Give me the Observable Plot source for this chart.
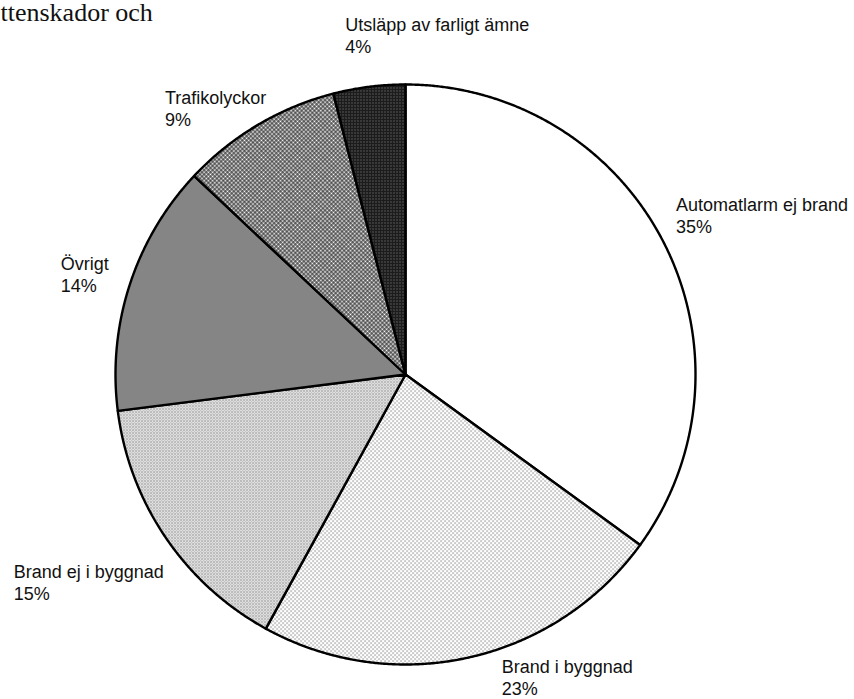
<!DOCTYPE html>
<html>
<head>
<meta charset="utf-8">
<script src="https://cdn.jsdelivr.net/npm/d3@7"></script>
<script src="https://cdn.jsdelivr.net/npm/@observablehq/plot@0.6"></script>
<style>
  html, body { margin: 0; padding: 0; background: #fff; }
  #chart svg { display: block; background: #fff; }
</style>
</head>
<body>
<div id="chart"></div>
<script>
// ---- data ----
const categories = ["Automatlarm ej brand", "Brand i byggnad", "Brand ej i byggnad", "Övrigt", "Trafikolyckor", "Utsläpp av farligt ämne"];
const shares = [35, 23, 15, 14, 9, 4];
const shareLabels = ["35%", "23%", "15%", "14%", "9%", "4%"];
const headingFragment = "ttenskador och";

// ---- layout / style (kept apart from the data) ----
const W = 854, H = 699;
const R = 290, CX = 405, CY = 374;
const patternIds = ["pWhite", "pLightDots", "pDots", "pGray", "pCheck", "pDark"];
const labelNudges = [[12, -47], [33, 0], [-152, 25], [-69, -30], [-93, -36], [-24, -71]];

const arcs = d3.pie().sort(null).value(d => d)(shares);

const slicePoints = arcs.map((a, i) => {
  const pts = [{x: 0, y: 0}];
  const n = Math.max(2, Math.ceil((a.endAngle - a.startAngle) / 0.005));
  for (let k = 0; k <= n; k++) {
    const t = a.startAngle + (a.endAngle - a.startAngle) * k / n;
    pts.push({x: Math.sin(t), y: -Math.cos(t)});
  }
  pts.push({x: 0, y: 0});
  return pts;
});

const marks = [];
arcs.forEach((a, i) => {
  marks.push(Plot.line(slicePoints[i], {
    x: "x", y: "y", curve: "linear",
    fill: `url(#${patternIds[i]})`,
    stroke: "#000", strokeWidth: 2.4, strokeLinejoin: "round"
  }));
});
arcs.forEach((a, i) => {
  const mid = (a.startAngle + a.endAngle) / 2;
  marks.push(Plot.text([i], {
    x: () => Math.sin(mid), y: () => -Math.cos(mid),
    text: () => categories[i] + "\n" + shareLabels[i],
    dx: labelNudges[i][0], dy: labelNudges[i][1],
    textAnchor: "start", lineAnchor: "top", lineHeight: 1.22,
    fontFamily: "Liberation Sans, Arial, sans-serif", fontSize: 18, fill: "#111"
  }));
});
marks.push(Plot.text([headingFragment], {
  frameAnchor: "top-left", text: d => d, textAnchor: "start", lineAnchor: "top",
  dx: 0, dy: 2, fontFamily: "Liberation Serif, Times New Roman, serif", fontSize: 26, fill: "#111"
}));

const svg = Plot.plot({
  width: W, height: H,
  margin: 0,
  x: {domain: [-CX / R, (W - CX) / R], range: [0, W], axis: null},
  y: {domain: [-CY / R, (H - CY) / R], range: [0, H], axis: null},
  style: {background: "#fff"},
  marks
});

// pattern definitions
const defs = d3.select(svg).insert("defs", ":first-child");
function tile(id, w, h, bg, rects, rotate) {
  const p = defs.append("pattern").attr("id", id).attr("patternUnits", "userSpaceOnUse")
    .attr("width", w).attr("height", h);
  if (rotate) p.attr("patternTransform", `rotate(${rotate})`);
  p.append("rect").attr("width", w).attr("height", h).attr("fill", bg);
  rects.forEach(([x, y, rw, rh, c]) => p.append("rect").attr("x", x).attr("y", y).attr("width", rw).attr("height", rh).attr("fill", c));
}
tile("pWhite", 4, 4, "#fff", []);
tile("pLightDots", 4, 4, "#fff", [[0, 0, 1.1, 1.1, "#555"], [2, 2, 1.1, 1.1, "#555"]]);
tile("pDots", 3, 3, "#fff", [[0, 0, 1.1, 1.1, "#444"], [1.5, 1.5, 1.1, 1.1, "#444"]]);
tile("pGray", 2, 2, "#c4c4c4", [[0, 0, 1, 1, "#111"], [1, 1, 1, 1, "#7a7a7a"]]);
tile("pCheck", 3, 3, "#111", [[0.4, 0.4, 2.1, 2.1, "#fff"]], 45);
tile("pDark", 3, 3, "#1c1c1c", [[0, 0, 0.9, 0.9, "#aaa"]]);

document.getElementById("chart").appendChild(svg);
</script>
</body>
</html>
